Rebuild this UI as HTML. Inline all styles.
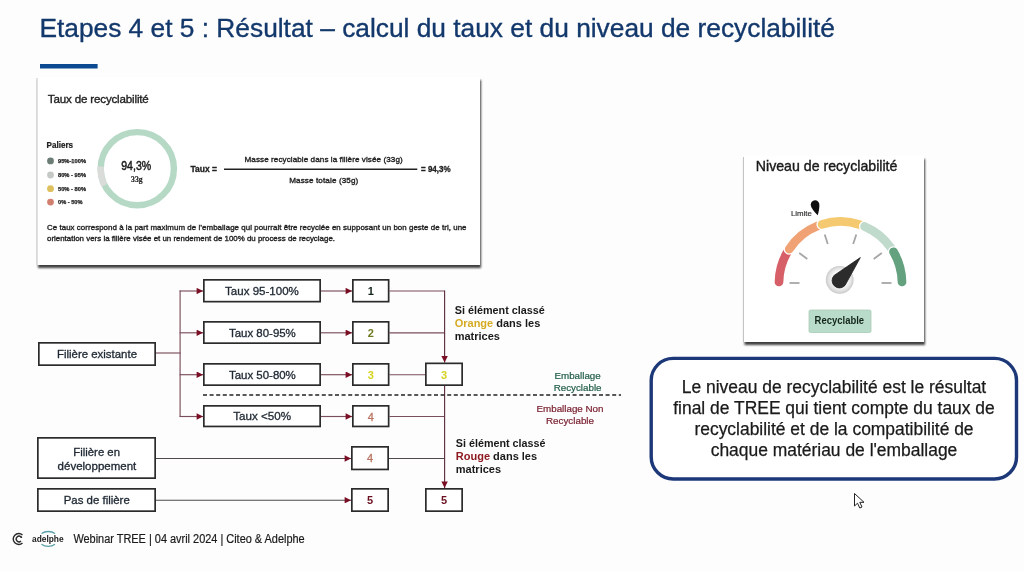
<!DOCTYPE html>
<html><head><meta charset="utf-8">
<style>
html,body{margin:0;padding:0;background:#fdfdfd;width:1024px;height:572px;overflow:hidden}
svg{display:block;font-family:"Liberation Sans",sans-serif;filter:blur(0.35px)}
</style></head>
<body>
<svg width="1024" height="572" viewBox="0 0 1024 572">
<defs>
<marker id="ar" viewBox="0 0 10 10" refX="10" refY="5" markerWidth="6.8" markerHeight="6.4" markerUnits="userSpaceOnUse" orient="auto"><path d="M0 0L10 5L0 10z" fill="#7a0e24"/></marker>
<filter id="sh" x="-5%" y="-5%" width="112%" height="115%"><feGaussianBlur in="SourceAlpha" stdDeviation="0.9"/><feOffset dx="0.9" dy="2.6"/><feComponentTransfer><feFuncA type="linear" slope="0.75"/></feComponentTransfer><feMerge><feMergeNode/><feMergeNode in="SourceGraphic"/></feMerge></filter>
<radialGradient id="nb" cx="50%" cy="50%" r="50%" fx="56%" fy="44%"><stop offset="0" stop-color="#ffffff"/><stop offset="0.6" stop-color="#f8f8f8"/><stop offset="0.85" stop-color="#dedede"/><stop offset="1" stop-color="#c9c9c9"/></radialGradient>
</defs>
<rect width="1024" height="572" fill="#fdfdfd"/>

<text x="39.4" y="36.9" font-size="26.6" fill="#13386c" textLength="795.6" lengthAdjust="spacingAndGlyphs" stroke="#13386c" stroke-width="0.35">Etapes 4 et 5 : Résultat – calcul du taux et du niveau de recyclabilité</text>
<rect x="40" y="64" width="57.6" height="4.5" fill="#0c4a91"/>
<rect x="37" y="77" width="443" height="188" fill="#fff" filter="url(#sh)"/>
<line x1="37" y1="78" x2="37" y2="265" stroke="#c4c4c4" stroke-width="1"/>
<text x="47.8" y="102.5" font-size="11.6" fill="#222" textLength="101" lengthAdjust="spacing" stroke="#222" stroke-width="0.35">Taux de recyclabilité</text>
<text x="46.6" y="147.8" font-size="8.2" fill="#1c1c1c" textLength="26.5" lengthAdjust="spacingAndGlyphs" font-weight="bold" stroke="#1c1c1c" stroke-width="0.2">Paliers</text>
<circle cx="50.5" cy="160.9" r="3.4" fill="#6b7d75"/>
<circle cx="50.5" cy="175" r="3.4" fill="#c5c9c6"/>
<circle cx="50.5" cy="188.7" r="3.4" fill="#dfc05f"/>
<circle cx="50.5" cy="202.1" r="3.4" fill="#d1806f"/>
<text x="58" y="162.9" font-size="5.8" fill="#222" textLength="28" lengthAdjust="spacingAndGlyphs" font-weight="bold" stroke="#222" stroke-width="0.25">95%-100%</text>
<text x="58" y="177.0" font-size="5.8" fill="#222" textLength="28" lengthAdjust="spacingAndGlyphs" font-weight="bold" stroke="#222" stroke-width="0.25">80% - 95%</text>
<text x="58" y="190.7" font-size="5.8" fill="#222" textLength="28" lengthAdjust="spacingAndGlyphs" font-weight="bold" stroke="#222" stroke-width="0.25">50% - 80%</text>
<text x="58" y="204.1" font-size="5.8" fill="#222" textLength="24.5" lengthAdjust="spacingAndGlyphs" font-weight="bold" stroke="#222" stroke-width="0.25">0% - 50%</text>
<circle cx="137.3" cy="168.7" r="36.6" fill="none" stroke="#b6d9c6" stroke-width="6.4"/>
<path d="M100.7 166.5 A36.6 36.6 0 0 0 104.5 185.2" fill="none" stroke="#d9dcd9" stroke-width="6.4"/>
<text x="136.2" y="169.9" font-size="12" fill="#1a1a1a" textLength="30" lengthAdjust="spacingAndGlyphs" text-anchor="middle" stroke="#1a1a1a" stroke-width="0.45">94,3%</text>
<text x="136.8" y="182.2" font-size="8" fill="#222" textLength="11.5" lengthAdjust="spacingAndGlyphs" text-anchor="middle" font-weight="bold" font-family="Liberation Serif" stroke="#222" stroke-width="0.2">33g</text>
<text x="190.5" y="172.3" font-size="8.4" fill="#222" textLength="26.5" lengthAdjust="spacingAndGlyphs" font-weight="bold" stroke="#222" stroke-width="0.3">Taux =</text>
<line x1="224" y1="169.3" x2="417.3" y2="169.3" stroke="#222" stroke-width="1.4"/>
<text x="244.5" y="161.7" font-size="8.1" fill="#222" textLength="158.2" lengthAdjust="spacing" stroke="#222" stroke-width="0.35">Masse recyclable dans la filière visée (33g)</text>
<text x="289.2" y="182.6" font-size="8.1" fill="#222" textLength="69.1" lengthAdjust="spacing" stroke="#222" stroke-width="0.35">Masse totale (35g)</text>
<text x="421" y="172.3" font-size="8.4" fill="#222" textLength="29.6" lengthAdjust="spacingAndGlyphs" font-weight="bold" stroke="#222" stroke-width="0.3">= 94,3%</text>
<text x="47" y="230.4" font-size="7.9" fill="#222" textLength="419.5" lengthAdjust="spacing" stroke="#222" stroke-width="0.35">Ce taux correspond à la part maximum de l’emballage qui pourrait être recyclée en supposant un bon geste de tri, une</text>
<text x="47" y="241.2" font-size="7.9" fill="#222" textLength="288" lengthAdjust="spacing" stroke="#222" stroke-width="0.35">orientation vers la filière visée et un rendement de 100% du process de recyclage.</text>
<rect x="743.5" y="156" width="180.5" height="186" fill="#fff" filter="url(#sh)"/>
<line x1="743.5" y1="157" x2="743.5" y2="342" stroke="#c4c4c4" stroke-width="1"/>
<text x="755.8" y="171.0" font-size="14.6" fill="#1a1a1a" textLength="141.6" lengthAdjust="spacingAndGlyphs" stroke="#1a1a1a" stroke-width="0.4">Niveau de recyclabilité</text>
<g fill="none" stroke-width="8.7" stroke-linecap="round">
<path d="M779.01 281.93 A61.5 61.5 0 0 1 786.96 252.73" stroke="#d65f68"/>
<path d="M789.23 249.04 A61.5 61.5 0 0 1 817.94 225.79" stroke="#fff" stroke-width="11.299999999999999"/>
<path d="M789.23 249.04 A61.5 61.5 0 0 1 817.94 225.79" stroke="#f0a274"/>
<path d="M822.03 224.34 A61.5 61.5 0 0 1 860.50 224.84" stroke="#fff" stroke-width="11.299999999999999"/>
<path d="M822.03 224.34 A61.5 61.5 0 0 1 860.50 224.84" stroke="#f5c96f"/>
<path d="M864.55 226.40 A61.5 61.5 0 0 1 891.17 248.15" stroke="#fff" stroke-width="11.299999999999999"/>
<path d="M864.55 226.40 A61.5 61.5 0 0 1 891.17 248.15" stroke="#c0dacc"/>
<path d="M893.50 251.80 A61.5 61.5 0 0 1 901.99 281.93" stroke="#fff" stroke-width="11.299999999999999"/>
<path d="M893.50 251.80 A61.5 61.5 0 0 1 901.99 281.93" stroke="#64a17e"/>
</g>
<g stroke="#a6a6a6" stroke-width="1.8">
<line x1="799.5" y1="283.0" x2="789.5" y2="283.0"/>
<line x1="807.3" y1="258.9" x2="799.2" y2="253.0"/>
<line x1="827.8" y1="244.0" x2="824.7" y2="234.5"/>
<line x1="853.2" y1="244.0" x2="856.3" y2="234.5"/>
<line x1="873.7" y1="258.9" x2="881.8" y2="253.0"/>
<line x1="881.5" y1="283.0" x2="891.5" y2="283.0"/>
</g>
<circle cx="839.7" cy="279.8" r="13.9" fill="url(#nb)"/>
<path d="M845.08 285.37 L860.3 257.6 L834.12 275.43 A7.4 7.4 0 1 0 845.08 285.37Z" fill="#2c2c2c" stroke="#1c1c1c" stroke-width="0.8" stroke-linejoin="round"/>
<path d="M817.8 215.3 C813.5 211 810.6 207.5 810.8 204.3 C811 201.6 813.4 200.2 815.6 200.3 C818 200.5 819.5 202.6 819.4 205.8 C819.3 208.8 818.6 212 817.8 215.3Z" fill="#0d0d0d"/>
<text x="790.9" y="215.7" font-size="6.6" fill="#2a2a2a" textLength="21" lengthAdjust="spacingAndGlyphs" stroke="#2a2a2a" stroke-width="0.12">Limite</text>
<rect x="809" y="310" width="62" height="22.5" rx="1.5" fill="#b9dbc9" stroke="#a8ccb8" stroke-width="0.8"/>
<text x="814.6" y="324.3" font-size="10.2" fill="#14261c" textLength="49.5" lengthAdjust="spacingAndGlyphs" font-weight="bold">Recyclable</text>
<line x1="156" y1="353" x2="180.6" y2="353" stroke="#7a4e5a" stroke-width="1.15"/>
<line x1="180.1" y1="290.5" x2="180.1" y2="417" stroke="#7a4e5a" stroke-width="1.15"/>
<line x1="179.6" y1="291" x2="203" y2="291" stroke="#7a4e5a" stroke-width="1.15" marker-end="url(#ar)"/>
<line x1="321" y1="291" x2="352" y2="291" stroke="#7a4e5a" stroke-width="1.15" marker-end="url(#ar)"/>
<line x1="179.6" y1="332.8" x2="203" y2="332.8" stroke="#7a4e5a" stroke-width="1.15" marker-end="url(#ar)"/>
<line x1="321" y1="332.8" x2="352" y2="332.8" stroke="#7a4e5a" stroke-width="1.15" marker-end="url(#ar)"/>
<line x1="179.6" y1="374.7" x2="203" y2="374.7" stroke="#7a4e5a" stroke-width="1.15" marker-end="url(#ar)"/>
<line x1="321" y1="374.7" x2="352" y2="374.7" stroke="#7a4e5a" stroke-width="1.15" marker-end="url(#ar)"/>
<line x1="179.6" y1="416.5" x2="203" y2="416.5" stroke="#7a4e5a" stroke-width="1.15" marker-end="url(#ar)"/>
<line x1="321" y1="416.5" x2="352" y2="416.5" stroke="#7a4e5a" stroke-width="1.15" marker-end="url(#ar)"/>
<line x1="156" y1="458.5" x2="351" y2="458.5" stroke="#4e4a4c" stroke-width="1.15" marker-end="url(#ar)"/>
<line x1="156" y1="500.2" x2="351" y2="500.2" stroke="#4e4a4c" stroke-width="1.15" marker-end="url(#ar)"/>
<line x1="389.5" y1="291" x2="444.6" y2="291" stroke="#7a4e5a" stroke-width="1.15"/>
<line x1="389.5" y1="332.8" x2="444.6" y2="332.8" stroke="#7a4e5a" stroke-width="1.15"/>
<line x1="389.5" y1="374.7" x2="425" y2="374.7" stroke="#7a4e5a" stroke-width="1.15"/>
<line x1="389.5" y1="416.5" x2="444.6" y2="416.5" stroke="#7a4e5a" stroke-width="1.15"/>
<line x1="389" y1="458.5" x2="444.6" y2="458.5" stroke="#4e4a4c" stroke-width="1.15"/>
<line x1="444.6" y1="290.5" x2="444.6" y2="362.5" stroke="#60303e" stroke-width="1.15" marker-end="url(#ar)"/>
<line x1="444.6" y1="386" x2="444.6" y2="488" stroke="#60303e" stroke-width="1.15" marker-end="url(#ar)"/>
<line x1="203" y1="395" x2="621" y2="395" stroke="#222" stroke-width="1.5" stroke-dasharray="4 2.6"/>
<rect x="38.85" y="342.85" width="116.30" height="22.30" fill="#fff" stroke="#2b2b2b" stroke-width="1.7"/>
<rect x="203.85" y="279.85" width="116.30" height="21.80" fill="#fff" stroke="#2b2b2b" stroke-width="1.7"/>
<rect x="203.85" y="321.85" width="116.30" height="21.30" fill="#fff" stroke="#2b2b2b" stroke-width="1.7"/>
<rect x="203.85" y="363.85" width="116.30" height="21.30" fill="#fff" stroke="#2b2b2b" stroke-width="1.7"/>
<rect x="203.85" y="405.85" width="116.30" height="20.60" fill="#fff" stroke="#2b2b2b" stroke-width="1.7"/>
<rect x="37.85" y="437.85" width="117.30" height="40.30" fill="#fff" stroke="#2b2b2b" stroke-width="1.7"/>
<rect x="37.85" y="488.85" width="117.30" height="22.30" fill="#fff" stroke="#2b2b2b" stroke-width="1.7"/>
<rect x="352.85" y="279.85" width="35.80" height="21.80" fill="#fff" stroke="#2b2b2b" stroke-width="1.7"/>
<rect x="352.85" y="321.85" width="35.80" height="21.30" fill="#fff" stroke="#2b2b2b" stroke-width="1.7"/>
<rect x="352.85" y="363.85" width="35.80" height="21.30" fill="#fff" stroke="#2b2b2b" stroke-width="1.7"/>
<rect x="352.85" y="405.85" width="35.80" height="20.60" fill="#fff" stroke="#2b2b2b" stroke-width="1.7"/>
<rect x="351.85" y="446.85" width="36.30" height="22.60" fill="#fff" stroke="#2b2b2b" stroke-width="1.7"/>
<rect x="351.85" y="488.85" width="36.30" height="22.30" fill="#fff" stroke="#2b2b2b" stroke-width="1.7"/>
<rect x="425.85" y="363.35" width="36.30" height="21.80" fill="#fff" stroke="#2b2b2b" stroke-width="1.7"/>
<rect x="425.85" y="488.85" width="36.30" height="22.30" fill="#fff" stroke="#2b2b2b" stroke-width="1.7"/>
<text x="57" y="357.8" font-size="11.4" fill="#1f2833" textLength="80" lengthAdjust="spacingAndGlyphs" stroke="#1f2833" stroke-width="0.32">Filière existante</text>
<text x="225.1" y="295.4" font-size="11.6" fill="#1f2833" textLength="73.7" lengthAdjust="spacingAndGlyphs" stroke="#1f2833" stroke-width="0.32">Taux 95-100%</text>
<text x="229" y="337.2" font-size="11.6" fill="#1f2833" textLength="66.8" lengthAdjust="spacingAndGlyphs" stroke="#1f2833" stroke-width="0.32">Taux 80-95%</text>
<text x="229" y="378.6" font-size="11.6" fill="#1f2833" textLength="66.8" lengthAdjust="spacingAndGlyphs" stroke="#1f2833" stroke-width="0.32">Taux 50-80%</text>
<text x="233.3" y="420.4" font-size="11.6" fill="#1f2833" textLength="57.8" lengthAdjust="spacingAndGlyphs" stroke="#1f2833" stroke-width="0.32">Taux &lt;50%</text>
<text x="73.3" y="455.8" font-size="11.6" fill="#1f2833" textLength="46.7" lengthAdjust="spacingAndGlyphs" stroke="#1f2833" stroke-width="0.32">Filière en</text>
<text x="57.6" y="469.8" font-size="11.6" fill="#1f2833" textLength="78.7" lengthAdjust="spacingAndGlyphs" stroke="#1f2833" stroke-width="0.32">développement</text>
<text x="63.7" y="503.6" font-size="11.6" fill="#1f2833" textLength="66.1" lengthAdjust="spacingAndGlyphs" stroke="#1f2833" stroke-width="0.32">Pas de filière</text>
<text x="370.7" y="295.4" font-size="11" fill="#13241a" text-anchor="middle" font-weight="bold">1</text>
<text x="370.7" y="337" font-size="11" fill="#6f7b22" text-anchor="middle" font-weight="bold">2</text>
<text x="370.7" y="378.7" font-size="11" fill="#d6d21e" text-anchor="middle" font-weight="bold">3</text>
<text x="370.7" y="420.5" font-size="11" fill="#bb735f" text-anchor="middle" stroke="#bb735f" stroke-width="0.3">4</text>
<text x="370" y="462.3" font-size="11" fill="#bb735f" text-anchor="middle" stroke="#bb735f" stroke-width="0.3">4</text>
<text x="370" y="504.3" font-size="11" fill="#6b1020" text-anchor="middle" font-weight="bold">5</text>
<text x="444" y="378.5" font-size="11" fill="#d6d21e" text-anchor="middle" font-weight="bold">3</text>
<text x="444" y="504.3" font-size="11" fill="#6b1020" text-anchor="middle" font-weight="bold">5</text>
<text x="454.7" y="313.8" font-size="11" fill="#1a1a1a" textLength="90.1" lengthAdjust="spacingAndGlyphs" font-weight="bold">Si élément classé</text>
<text x="454.7" y="326.8" font-size="11" font-weight="bold" fill="#1a1a1a"><tspan fill="#d6ab22">Orange</tspan> dans les</text>
<text x="454.7" y="339.8" font-size="11" fill="#1a1a1a" font-weight="bold">matrices</text>
<text x="455.8" y="447" font-size="11" fill="#1a1a1a" textLength="89.7" lengthAdjust="spacingAndGlyphs" font-weight="bold">Si élément classé</text>
<text x="455.8" y="459.9" font-size="11" font-weight="bold" fill="#1a1a1a"><tspan fill="#8f1a22">Rouge</tspan> dans les</text>
<text x="455.8" y="473.1" font-size="11" fill="#1a1a1a" font-weight="bold">matrices</text>
<text x="577.6" y="379.4" font-size="9.8" fill="#1f5c46" text-anchor="middle" stroke="#1f5c46" stroke-width="0.2">Emballage</text>
<text x="577.6" y="390.5" font-size="9.8" fill="#1f5c46" text-anchor="middle" stroke="#1f5c46" stroke-width="0.2">Recyclable</text>
<text x="570" y="412" font-size="9.8" fill="#7a2030" text-anchor="middle" stroke="#7a2030" stroke-width="0.2">Emballage Non</text>
<text x="570" y="423.5" font-size="9.8" fill="#7a2030" text-anchor="middle" stroke="#7a2030" stroke-width="0.2">Recyclable</text>
<rect x="651.2" y="358.4" width="365.3" height="120.6" rx="22" fill="#fff" stroke="#1c3878" stroke-width="3.4"/>
<text x="834" y="392.9" font-size="17.45" fill="#1a1a1a" text-anchor="middle" stroke="#1a1a1a" stroke-width="0.25">Le niveau de recyclabilité est le résultat</text>
<text x="834" y="413.8" font-size="17.45" fill="#1a1a1a" text-anchor="middle" stroke="#1a1a1a" stroke-width="0.25">final de TREE qui tient compte du taux de</text>
<text x="834" y="434.7" font-size="17.45" fill="#1a1a1a" text-anchor="middle" stroke="#1a1a1a" stroke-width="0.25">recyclabilité et de la compatibilité de</text>
<text x="834" y="455.6" font-size="17.45" fill="#1a1a1a" text-anchor="middle" stroke="#1a1a1a" stroke-width="0.25">chaque matériau de l'emballage</text>
<path d="M854.5 493.5 L854.5 506 L857.5 503.2 L859.8 508 L862 507 L859.8 502.3 L864 502.3 Z" fill="#fff" stroke="#222" stroke-width="1" stroke-linejoin="round"/>
<path d="M22.5 535 A5.5 5.5 0 1 0 22.5 543" fill="none" stroke="#2a2a2a" stroke-width="1.4"/>
<path d="M21 537 A2.8 2.8 0 1 0 21 541" fill="none" stroke="#2a2a2a" stroke-width="1.3"/><circle cx="21.3" cy="537.2" r="0.9" fill="#2a2a2a"/>
<path d="M41.5 533.6 A10 8 0 0 1 55 533.6" fill="none" stroke="#5aa0a8" stroke-width="1.3"/>
<path d="M41.5 544.2 A10 8 0 0 0 55 544.2" fill="none" stroke="#5aa0a8" stroke-width="1.3"/>
<text x="32" y="541.5" font-size="8.6" fill="#222" textLength="31.6" lengthAdjust="spacingAndGlyphs" font-weight="bold">adelphe</text>
<text x="73.4" y="543.1" font-size="12" fill="#1a1a1a" textLength="231.3" lengthAdjust="spacingAndGlyphs" stroke="#1a1a1a" stroke-width="0.2">Webinar TREE | 04 avril 2024 | Citeo &amp; Adelphe</text>
</svg>
</body></html>
